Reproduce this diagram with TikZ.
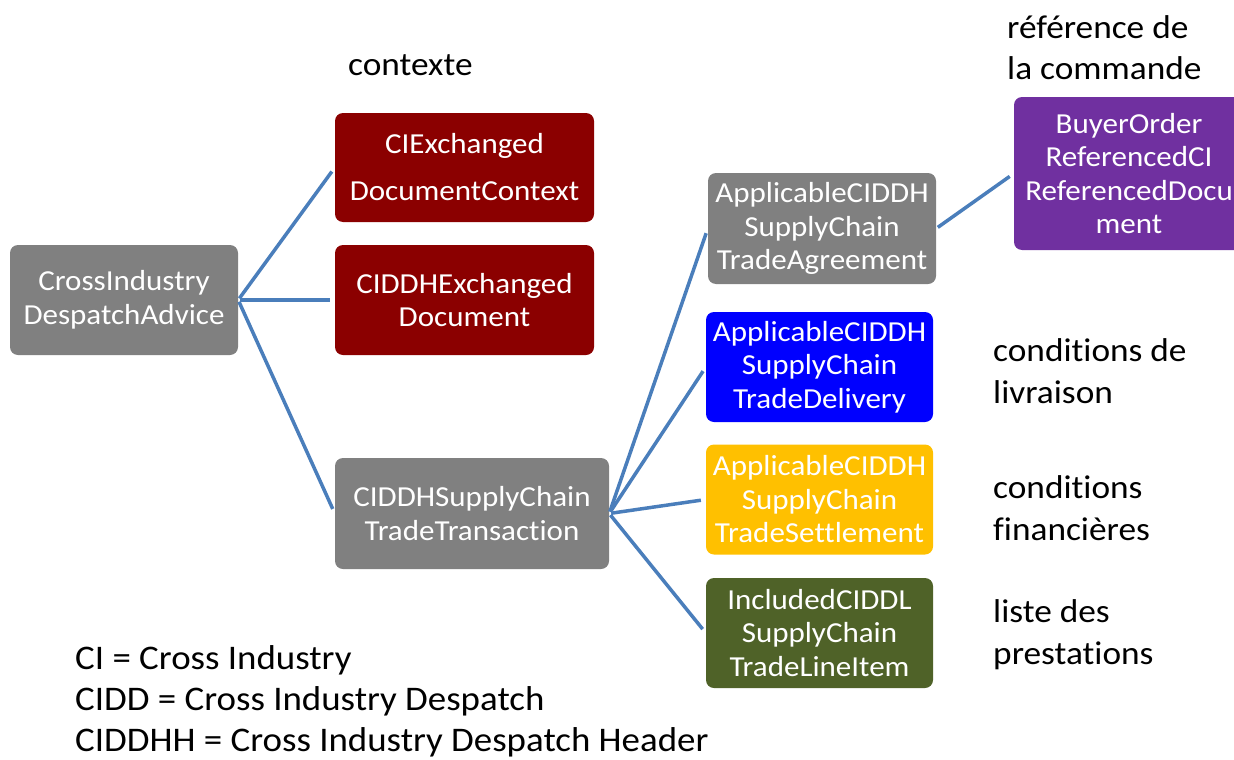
\documentclass[tikz,border=0pt]{standalone}
\usepackage{fontspec}
\setmainfont{Carlito}[Ligatures=NoCommon, FakeStretch=1.07]
\definecolor{dred}{RGB}{139,0,0}
\definecolor{bgray}{RGB}{128,128,128}
\definecolor{bblue}{RGB}{0,0,255}
\definecolor{byellow}{RGB}{255,192,0}
\definecolor{bgreen}{RGB}{79,98,40}
\definecolor{bpurple}{RGB}{112,48,160}
\definecolor{conncol}{RGB}{74,126,187}
\begin{document}
\begin{tikzpicture}[x=1pt,y=-1pt,
  box/.style={rounded corners=8pt, text=white, align=center, inner sep=0pt,
    font=\fontsize{29}{33.5}\selectfont},
  lbl/.style={anchor=base west, align=left, inner sep=0pt, text=black,
    font=\fontsize{33}{41.5}\selectfont},
  conn/.style={draw=conncol, line width=3.5pt, shorten >=5pt, shorten <=2pt}]
\useasboundingbox (0,0) rectangle (1234,760);
\node[box, fill=bgray, minimum width=228pt, minimum height=110pt] (cross) at (124,300) {CrossIndustry\\DespatchAdvice};
\node[box, fill=dred, minimum width=259pt, minimum height=109pt, font=\fontsize{29}{47}\selectfont] (ctx) at (464.5,167.5) {CIExchanged\\DocumentContext};
\node[box, fill=dred, minimum width=259pt, minimum height=110pt] (doc) at (464.5,300) {CIDDHExchanged\\Document};
\node[box, fill=bgray, minimum width=274pt, minimum height=111pt] (trade) at (472,513.5) {CIDDHSupplyChain\\TradeTransaction};
\node[box, fill=bgray, minimum width=228pt, minimum height=111pt] (agr) at (822,228.5) {ApplicableCIDDH\\SupplyChain\\TradeAgreement};
\node[box, fill=bblue, minimum width=227pt, minimum height=110pt] (del) at (819.5,367) {ApplicableCIDDH\\SupplyChain\\TradeDelivery};
\node[box, fill=byellow, minimum width=227pt, minimum height=110pt] (set) at (819.5,499.5) {ApplicableCIDDH\\SupplyChain\\TradeSettlement};
\node[box, fill=bgreen, minimum width=227pt, minimum height=110pt] (line) at (819.5,633) {IncludedCIDDL\\SupplyChain\\TradeLineItem};
\node[box, fill=bpurple, minimum width=230pt, minimum height=153pt] (ord) at (1129,173.5) {BuyerOrder\\ReferencedCI\\ReferencedDocu\\ment};
\draw[conn] (cross.east) -- (ctx.west);
\draw[conn] (cross.east) -- (doc.west);
\draw[conn] (cross.east) -- (trade.west);
\draw[conn] (trade.east) -- (agr.west);
\draw[conn] (trade.east) -- (del.west);
\draw[conn] (trade.east) -- (set.west);
\draw[conn] (trade.east) -- (line.west);
\draw[conn] (agr.east) -- (ord.west);
\node[lbl] (lctx) at (348,76) {contexte};
\node[lbl] (lref) at (1007,80) {référence de\\la commande};
\node[lbl] (lliv) at (993,403) {conditions de\\livraison};
\node[lbl] (lfin) at (993,540) {conditions\\financières};
\node[lbl] (lpre) at (993,664) {liste des\\prestations};
\node[lbl, font=\fontsize{34.5}{41}\selectfont] (legend) at (75,751) {CI = Cross Industry\\CIDD = Cross Industry Despatch\\CIDDHH = Cross Industry Despatch Header};
\end{tikzpicture}
\end{document}
